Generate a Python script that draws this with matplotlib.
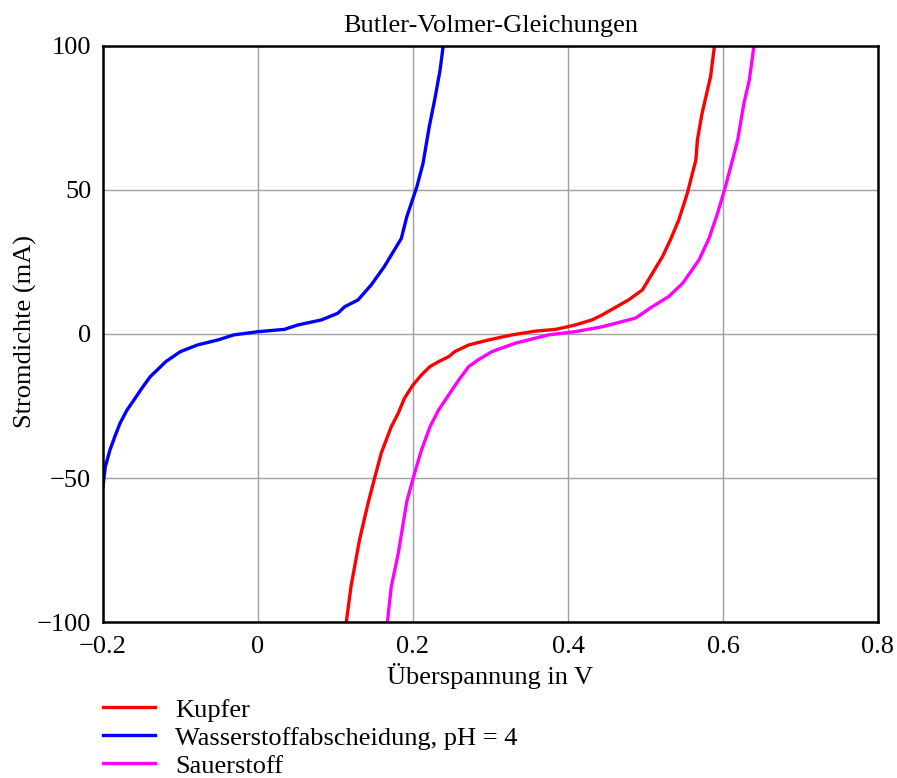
import matplotlib
matplotlib.use("Agg")
import matplotlib.pyplot as plt
from matplotlib.ticker import FuncFormatter

# --- Data ---
kupfer_x = [0.114, 0.120, 0.131, 0.142, 0.151, 0.159, 0.172, 0.181, 0.189, 0.200,
            0.211, 0.222, 0.233, 0.246, 0.254, 0.272, 0.297, 0.328, 0.358, 0.384,
            0.409, 0.431, 0.444, 0.463, 0.478, 0.496, 0.509, 0.522, 0.532, 0.543,
            0.554, 0.565, 0.567, 0.573, 0.584, 0.589]
kupfer_y = [-100, -87.7, -71.5, -58.8, -49.5, -41.4, -32.2, -27.5, -22.3, -17.7,
            -14.2, -11.3, -9.6, -7.9, -6.1, -3.8, -2.1, -0.3, 1.0, 1.6,
            3.1, 4.9, 6.6, 9.5, 11.8, 15.3, 21.1, 26.9, 32.6, 39.6,
            48.9, 60.4, 67.4, 76.6, 89.4, 100]

wasser_x = [-0.200, -0.197, -0.191, -0.184, -0.178, -0.169, -0.160, -0.150, -0.139,
            -0.130, -0.119, -0.100, -0.078, -0.052, -0.031, 0.000, 0.034, 0.051,
            0.082, 0.103, 0.112, 0.129, 0.146, 0.163, 0.185, 0.192, 0.205, 0.213,
            0.221, 0.228, 0.235, 0.239]
wasser_y = [-53.0, -46.1, -40.3, -35.1, -31.0, -26.4, -22.9, -18.9, -14.8,
            -12.5, -9.6, -6.1, -3.8, -2.1, -0.3, 0.8, 1.6, 3.1,
            4.9, 7.2, 9.5, 11.8, 17.0, 23.4, 33.2, 40.7, 51.1, 59.3,
            72.0, 81.3, 91.7, 100]

sauer_x = [0.167, 0.172, 0.181, 0.192, 0.202, 0.211, 0.222, 0.233, 0.246, 0.259,
           0.272, 0.284, 0.302, 0.332, 0.375, 0.409, 0.444, 0.487, 0.509, 0.530,
           0.548, 0.560, 0.569, 0.582, 0.593, 0.602, 0.610, 0.619, 0.627, 0.634,
           0.640]
sauer_y = [-100, -87.7, -76.2, -58.2, -48.4, -40.3, -32.2, -26.4, -21.2, -16.0,
           -11.3, -9.0, -6.1, -3.2, -0.3, 0.8, 2.5, 5.5, 9.5, 13.0,
           17.6, 22.2, 25.7, 33.2, 41.9, 50.0, 58.1, 67.4, 80.1, 88.2,
           100]

x_ticks = [-0.2, 0, 0.2, 0.4, 0.6, 0.8]
y_ticks = [-100, -50, 0, 50, 100]

plt.rcParams['font.family'] = ['Liberation Serif', 'DejaVu Serif']
plt.rcParams['font.size'] = 19

fig = plt.figure(figsize=(8.97, 7.78), dpi=100)
ax = fig.add_axes([0.1148, 0.2005, 0.864, 0.7404])

ax.plot(kupfer_x, kupfer_y, color='#ff0000', lw=2.4, label='Kupfer')
ax.plot(wasser_x, wasser_y, color='#0000ff', lw=2.4, label='Wasserstoffabscheidung, pH = 4')
ax.plot(sauer_x, sauer_y, color='#ff00ff', lw=2.4, label='Sauerstoff')

ax.set_xlim(-0.2, 0.8)
ax.set_ylim(-100, 100)
ax.set_xticks(x_ticks)
ax.set_yticks(y_ticks)
ax.xaxis.set_major_formatter(FuncFormatter(lambda v, p: '0' if abs(v) < 1e-9 else f'{v:g}'.replace('-', '\u2212')))
ax.yaxis.set_major_formatter(FuncFormatter(lambda v, p: f'{v:g}'.replace('-', '\u2212')))
ax.tick_params(axis='x', length=0, pad=10, labelsize=19)
ax.tick_params(axis='y', length=0, pad=8.5, labelsize=19)
ax.grid(True, color='#a0a0a0', lw=1)
for s in ax.spines.values():
    s.set_linewidth(1.8)

ax.set_title('Butler-Volmer-Gleichungen', fontsize=19, pad=10)
ax.set_xlabel('Überspannung in V', fontsize=19, labelpad=4)
ax.set_ylabel('Stromdichte (mA)', fontsize=19)
ax.yaxis.set_label_coords(-0.0851, 0.505)

fig.legend(loc='upper left', bbox_to_anchor=(0.1148, 0.1025), frameon=False,
           fontsize=19, handlelength=1.97, handletextpad=0.76, labelspacing=0.17,
           borderaxespad=0, borderpad=0)

fig.savefig('out.png', dpi=100)
